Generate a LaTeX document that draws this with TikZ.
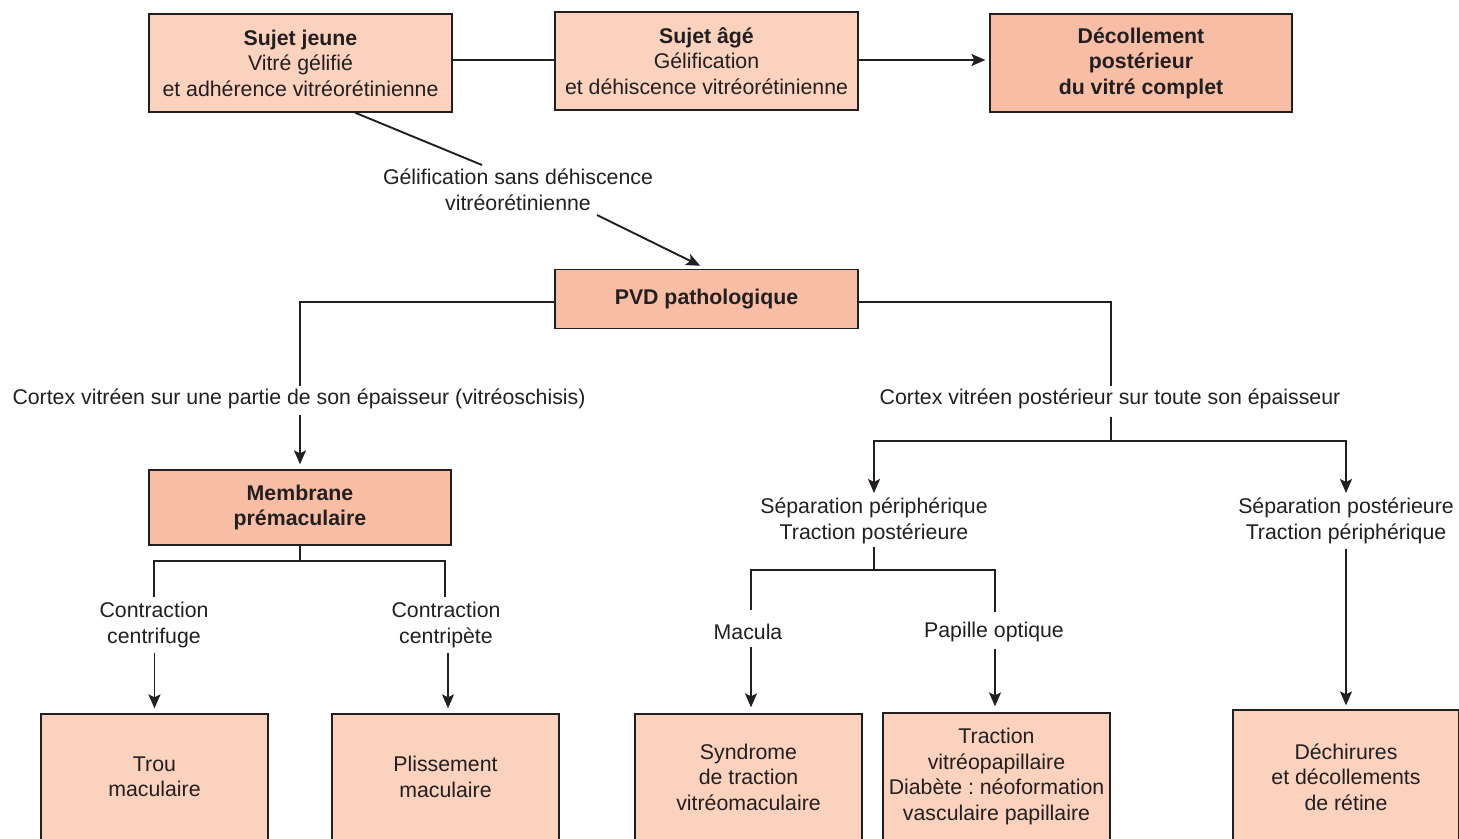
\documentclass[tikz,border=0pt]{standalone}
\usepackage{fontspec}
\setmainfont{Liberation Sans}
\usetikzlibrary{arrows.meta}
\definecolor{lightbox}{RGB}{251,210,190}
\definecolor{darkbox}{RGB}{248,189,165}
\definecolor{ink}{RGB}{35,31,32}
\frenchspacing
\tikzset{
  lbox/.style={draw=ink, line width=1.3pt, fill=lightbox, align=center, text=ink, inner sep=2pt},
  dbox/.style={lbox, fill=darkbox},
  lab/.style={align=center, text=ink, inner sep=3pt},
  conn/.style={draw=ink, line width=1.9pt},
  arr/.style={conn, -{Stealth[length=14pt,width=12pt,inset=3pt]}},
}
\begin{document}
\begin{tikzpicture}[x=1pt,y=-1pt, font=\fontsize{21.3}{25.5}\selectfont]
\useasboundingbox (0,0) rectangle (1459,838);
\clip (0,0) rectangle (1459,838);
\fill[white] (0,0) rectangle (1459,838);

% top row
\node[lbox, minimum width=303, minimum height=98] (sj) at (300.5,63) {\textbf{Sujet jeune}\\Vitré gélifié\\et adhérence vitréorétinienne};
\node[lbox, minimum width=303, minimum height=98] (sa) at (706.5,61) {\textbf{Sujet âgé}\\Gélification\\et déhiscence vitréorétinienne};
\node[dbox, minimum width=302, minimum height=98] (dpv) at (1141,63) {\textbf{Décollement}\\\textbf{postérieur}\\\textbf{du vitré complet}};

\draw[conn] (sj.east |- 0,60) -- (sa.west |- 0,60);
\draw[arr, shorten >=4pt] (sa.east |- 0,60) -- (dpv.west |- 0,60);

% gelification
\node[lab] (gel) at (518,190) {Gélification sans déhiscence\\vitréorétinienne};
\coordinate (g1) at (482,165);
\coordinate (g2) at (597,215);
\node[dbox, minimum width=303, minimum height=59] (pvd) at (706.5,299) {\textbf{PVD pathologique}};
\draw[conn] ([xshift=54.5pt]sj.south) -- (g1);
\draw[arr, shorten >=7pt] (g2) -- (pvd.north);

% left branch
\coordinate (L1) at (300,386);
\draw[conn] (pvd.west |- 0,302) -| (L1);
\node[lab] (cl) at (299,399) {Cortex vitréen sur une partie de son épaisseur (vitréoschisis)};
\node[dbox, minimum width=302, minimum height=75] (mp) at (300,507.5) {\textbf{Membrane}\\\textbf{prémaculaire}};
\draw[arr, shorten <=3pt, shorten >=5pt] (cl.south -| mp.north) -- (mp.north);

\coordinate (m0) at (300,561);
\coordinate (mL) at (154,597);
\coordinate (mR) at (445,597);
\draw[conn] (mp.south) -- (m0);
\draw[conn] (mL) |- (m0) -| (mR);
\node[lab] (cf) at (154,625) {Contraction\\centrifuge};
\node[lab] (cp) at (446,625) {Contraction\\centripète};
\node[lbox, minimum width=227, minimum height=126] (trou) at (154.5,777) {Trou\\maculaire};
\node[lbox, minimum width=227, minimum height=126] (pli) at (445.5,777) {Plissement\\maculaire};
\draw[arr, shorten <=2pt, shorten >=5pt] (cf.south -| trou.north) -- (trou.north);
\draw[arr, shorten <=2pt, shorten >=5pt] ([xshift=2pt]cp.south) -- ([xshift=2pt]cp.south |- pli.north);

% right branch
\coordinate (R1) at (1111,386);
\draw[conn] (pvd.east |- 0,302) -| (R1);
\node[lab] (cr) at (1110,399) {Cortex vitréen postérieur sur toute son épaisseur};
\coordinate (R2) at (1111,441);
\draw[conn, shorten <=5pt] (cr.south -| R2) -- (R2);
\node[lab] (sp1) at (874,521) {Séparation périphérique\\Traction postérieure};
\node[lab] (sp2) at (1346,521) {Séparation postérieure\\Traction périphérique};
\draw[arr, shorten >=2pt] (R2) -| (sp1.north);
\draw[arr, shorten >=2pt] (R2) -| (sp2.north);

\coordinate (S0) at (874,570);
\coordinate (Sm) at (751,610);
\coordinate (Sp) at (995,612);
\draw[conn] (sp1.south) -- (S0);
\draw[conn] (Sm) |- (S0) -| (Sp);
\node[lab] (mac) at (748,632) {Macula};
\node[lab] (pap) at (994,632) {Papille optique};
\node[lbox, minimum width=227, minimum height=126] (syn) at (748.5,777) {Syndrome\\de traction\\vitréomaculaire};
\node[lbox, minimum width=227, minimum height=127] (tra) at (996.5,776.5) {Traction\\vitréopapillaire\\Diabète : néoformation\\vasculaire papillaire};
\node[lbox, minimum width=226, minimum height=134] (dec) at (1346,777) {Déchirures\\et décollements\\de rétine};
\draw[arr, shorten <=4pt, shorten >=6pt] (mac.south -| Sm) -- (Sm |- syn.north);
\draw[arr, shorten <=4pt, shorten >=6pt] (pap.south -| Sp) -- (Sp |- tra.north);
\draw[arr, shorten <=2pt, shorten >=4pt] (sp2.south) -- (dec.north);
\end{tikzpicture}
\end{document}
